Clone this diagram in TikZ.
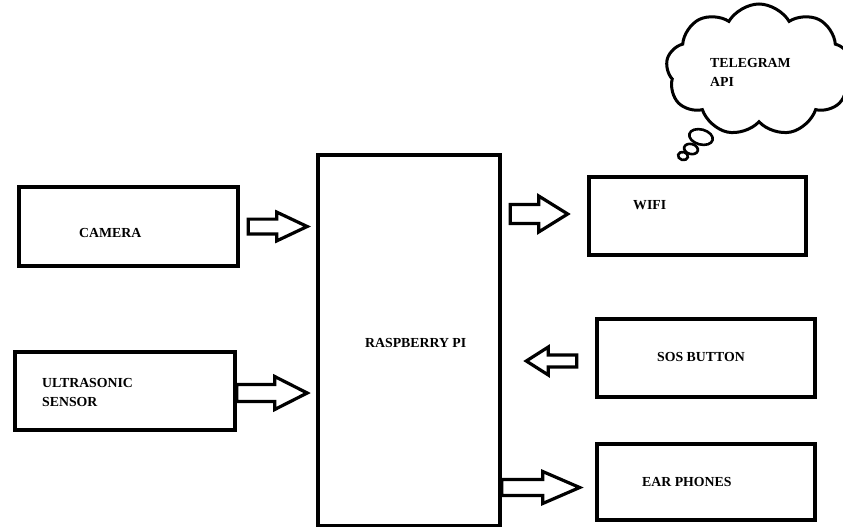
\documentclass[tikz,border=0pt]{standalone}
\usepackage{fontspec}
\setmainfont{Liberation Serif}
\usetikzlibrary{shapes.symbols,shapes.geometric,calc}
\newcommand{\blkarrow}[5]{%
  \draw[barrow] let \p1=(#1), \p2=(#2) in
    (\x1,\y1+#3) -- (\x2-#5*1pt,\y1+#3) -- (\x2-#5*1pt,\y1+#4) -- (\x2,\y1)
    -- (\x2-#5*1pt,\y1-#4) -- (\x2-#5*1pt,\y1-#3) -- (\x1,\y1-#3) -- cycle;}
\begin{document}
\begin{tikzpicture}[x=1pt,y=-1pt,
  blk/.style={draw, line width=3.6pt, inner sep=0pt, rectangle},
  lbl/.style={font=\fontsize{13.8}{19}\selectfont\bfseries, inner sep=0pt, anchor=west, align=left},
  barrow/.style={draw, line width=3.2pt, line join=miter, fill=white},
  bubble/.style={draw, ellipse, line width=2.6pt, inner sep=0pt}]
\useasboundingbox (0,0) rectangle (843,527);
\fill[white] (0,0) rectangle (843,527);
\clip (0,0) rectangle (843,527);

% boxes
\node[blk, minimum width=219pt, minimum height=79pt] (cam) at (128.5,226.5) {};
\node[blk, minimum width=220pt, minimum height=78pt] (ultra) at (125,391) {};
\node[blk, minimum width=182pt, minimum height=371pt] (rpi) at (409,340.5) {};
\node[blk, minimum width=217pt, minimum height=78pt] (wifi) at (697.5,216) {};
\node[blk, minimum width=218pt, minimum height=78pt] (sos) at (706,358) {};
\node[blk, minimum width=218pt, minimum height=76pt] (ear) at (706,482) {};

% labels
\node[lbl] (camtxt) at (79,233) {CAMERA};
\node[lbl, anchor=north west] (ultratxt) at (42,378) {ULTRASONIC\\SENSOR};
\node[lbl] (rpitxt) at (365,343) {RASPBERRY PI};
\node[lbl] (wifitxt) at (633,205) {WIFI};
\node[lbl] (sostxt) at (657,357) {SOS BUTTON};
\node[lbl] (eartxt) at (642,482) {EAR PHONES};

% cloud
\node[cloud, draw, line width=3pt, cloud puffs=9, cloud puff arc=120,
      minimum width=186pt, minimum height=132pt] (cloud) at (759,70) {};
\node[lbl, anchor=north west] (cloudtxt) at (710,58) {TELEGRAM\\API};
\node[bubble, minimum width=24pt, minimum height=15pt, rotate=-15] (b1) at (701,137) {};
\node[bubble, minimum width=14pt, minimum height=10pt, rotate=-15] (b2) at (691,149) {};
\node[bubble, minimum width=10pt, minimum height=8pt, rotate=-15] (b3) at (683,156) {};

% arrow end points
\coordinate (a1s) at ([xshift=8.5pt]cam.east);
\coordinate (a1t) at ([xshift=-9pt]rpi.west |- a1s);
\coordinate (a2s) at ([yshift=-2pt]ultra.east);
\coordinate (a2t) at ([xshift=-9pt]rpi.west |- a2s);
\coordinate (a3s) at ([xshift=8.5pt]rpi.east |- 0,214);
\coordinate (a3t) at ([xshift=-19.5pt]wifi.west |- a3s);
\coordinate (a4s) at ([xshift=-18.5pt]sos.west |- 0,361);
\coordinate (a4t) at ([xshift=24.5pt]rpi.east |- a4s);
\coordinate (a5s) at (rpi.east |- 0,487.5);
\coordinate (a5t) at ([xshift=-15.5pt]ear.west |- a5s);

% block arrows
\blkarrow{a1s}{a1t}{7.4pt}{14.4pt}{30.5}
\blkarrow{a2s}{a2t}{8.5pt}{16.5pt}{32.5}
\blkarrow{a3s}{a3t}{9.5pt}{18pt}{29}
\blkarrow{a4s}{a4t}{6pt}{14pt}{-22}
\blkarrow{a5s}{a5t}{8pt}{16pt}{37}
\end{tikzpicture}
\end{document}
